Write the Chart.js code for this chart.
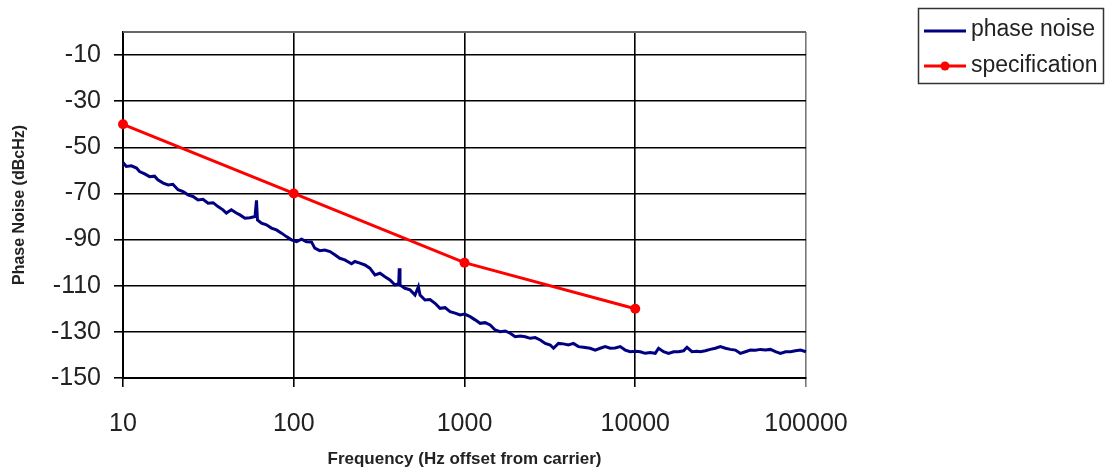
<!DOCTYPE html>
<html><head><meta charset="utf-8">
<script src="https://cdn.jsdelivr.net/npm/chart.js@4.4.0/dist/chart.umd.min.js"></script>
<style>html,body{margin:0;padding:0;background:#fff;}#wrap{width:1111px;height:470px;}</style>
</head><body><div id="wrap"><canvas id="c" width="1111" height="470"></canvas></div>
<script>
const xTicks = [10, 100, 1000, 10000, 100000];
const yTicks = [-150, -130, -110, -90, -70, -50, -30, -10];
const specFreq = [10, 100, 1000, 10000];
const specVal = [-40, -70, -100, -120];
const noiseFreq = [10, 10.45, 11.2, 12.0, 12.5, 13.4, 14.3, 15.3, 16.0, 17.2, 18.4, 19.6, 21.0, 22.5, 24.0, 25.7, 27.5, 29.4, 31.5, 33.7, 36.0, 38.5, 40.3, 43.1, 46.1, 48.4, 51.8, 55.4, 59.3, 60.5, 61.3, 64.7, 69.2, 74.0, 79.2, 84.8, 90.6, 97.0, 103.8, 111, 118.8, 127, 132.8, 142, 152, 163, 174, 186, 199, 218, 228, 244, 261, 279, 299, 320, 342, 366, 392, 412, 415, 419, 448, 480, 513, 537, 549, 587, 628, 672, 719, 770, 823, 881, 942, 1000, 1079, 1154, 1235, 1321, 1413, 1512, 1618, 1731, 1852, 1981, 2120, 2268, 2426, 2596, 2777, 2971, 3179, 3322, 3549, 3796, 4061, 4344, 4648, 4973, 5444, 5825, 6231, 6667, 7133, 7631, 8164, 8735, 9345, 10000, 10697, 11444, 12244, 13099, 13694, 14650, 15673, 16768, 17940, 19194, 20084, 21487, 22988, 24048, 25730, 27525, 29448, 31505, 33707, 36062, 38582, 41278, 44162, 47248, 50550, 54082, 57862, 61905, 66230, 70858, 75810, 81107, 86775, 92838, 100000];
const noiseVal = [-56.5, -58.3, -58.0, -59.0, -60.5, -61.5, -62.7, -62.5, -64.1, -65.5, -66.3, -66.0, -68.4, -69.2, -70.6, -71.3, -72.8, -72.5, -74.2, -74.0, -75.7, -77.1, -78.5, -77.1, -78.5, -79.3, -80.7, -80.5, -80.0, -73.0, -81.5, -82.9, -83.6, -85.0, -85.8, -87.2, -88.7, -90.1, -90.9, -89.8, -90.9, -91.0, -93.7, -94.8, -94.5, -95.2, -96.6, -98.1, -98.8, -100.5, -99.5, -100.2, -101.0, -102.4, -105.3, -104.6, -106.1, -107.5, -109.7, -109.0, -102.4, -109.7, -111.1, -111.8, -114.0, -110.4, -114.0, -116.2, -116.0, -117.6, -119.8, -119.5, -121.2, -121.9, -122.7, -122.3, -123.4, -124.8, -126.3, -126.0, -127.0, -129.2, -129.9, -129.6, -130.6, -132.1, -131.8, -132.1, -132.8, -132.5, -133.5, -135.0, -135.7, -137.1, -135.0, -135.2, -135.7, -135.0, -136.4, -136.7, -137.1, -137.9, -137.1, -136.4, -137.1, -137.0, -136.4, -137.9, -138.6, -138.4, -138.6, -139.3, -139.0, -139.3, -137.1, -138.6, -139.3, -138.6, -138.6, -138.2, -136.7, -138.6, -138.4, -138.6, -138.2, -137.6, -137.1, -136.4, -137.1, -137.6, -137.9, -139.3, -138.6, -137.9, -138.0, -137.6, -137.9, -137.6, -138.6, -139.3, -138.6, -138.6, -138.2, -137.9, -138.6];

const FONT = "'Liberation Sans', Arial, sans-serif";

const framePlugin = {
  id: 'frame',
  afterDraw(chart) {
    const {ctx, chartArea: a} = chart;
    ctx.save();
    ctx.strokeStyle = '#666';
    ctx.lineWidth = 2;
    ctx.beginPath();
    ctx.moveTo(a.left, a.top);
    ctx.lineTo(a.right, a.top);
    ctx.stroke();
    ctx.restore();
  }
};

const legendPlugin = {
  id: 'customLegend',
  afterDraw(chart) {
    const ctx = chart.ctx;
    ctx.save();
    ctx.strokeStyle = '#333';
    ctx.lineWidth = 1.5;
    ctx.strokeRect(918.5, 8.5, 185, 75);
    const ds = chart.data.datasets;
    ctx.font = '23px ' + FONT;
    ctx.fillStyle = '#222';
    ctx.textBaseline = 'middle';
    ctx.textAlign = 'left';
    ctx.strokeStyle = ds[0].borderColor;
    ctx.lineWidth = 3;
    ctx.beginPath(); ctx.moveTo(924, 31); ctx.lineTo(966, 31); ctx.stroke();
    ctx.fillText(ds[0].label, 971, 30);
    ctx.strokeStyle = ds[1].borderColor;
    ctx.beginPath(); ctx.moveTo(924, 66); ctx.lineTo(966, 66); ctx.stroke();
    ctx.fillStyle = ds[1].borderColor;
    ctx.beginPath(); ctx.arc(945, 66, 4.5, 0, Math.PI * 2); ctx.fill();
    ctx.fillStyle = '#222';
    ctx.fillText(ds[1].label, 971, 66);
    ctx.restore();
  }
};

new Chart(document.getElementById('c'), {
  type: 'line',
  data: {
    datasets: [
      {
        label: 'phase noise',
        data: noiseFreq.map((f, i) => ({x: f, y: noiseVal[i]})),
        borderColor: '#000080',
        backgroundColor: '#000080',
        borderWidth: 3,
        pointRadius: 0,
        tension: 0,
        clip: false,
        order: 2
      },
      {
        label: 'specification',
        data: specFreq.map((f, i) => ({x: f, y: specVal[i]})),
        borderColor: '#ff0000',
        backgroundColor: '#ff0000',
        borderWidth: 3,
        pointRadius: 5,
        pointHoverRadius: 5,
        pointBorderWidth: 0,
        tension: 0,
        clip: false,
        order: 1
      }
    ]
  },
  options: {
    responsive: false,
    animation: false,
    events: [],
    layout: {padding: {top: 32, right: 305, left: 0, bottom: 0}},
    plugins: {legend: {display: false}, tooltip: {enabled: false}},
    scales: {
      x: {
        type: 'logarithmic',
        min: 10, max: 100000,
        afterBuildTicks: (s) => { s.ticks = xTicks.map(v => ({value: v})); },
        afterFit: (s) => { s.height = 92; },
        ticks: {
          callback: (v) => String(v),
          font: {size: 25, family: FONT},
          color: '#222',
          padding: 22,
          maxRotation: 0,
          autoSkip: false
        },
        grid: {
          color: (c) => (c.tick && c.tick.value === 100000) ? '#777' : '#000',
          lineWidth: 1.6,
          tickLength: 9
        },
        border: {color: '#000', width: 2},
        title: {
          display: true,
          text: 'Frequency (Hz offset from carrier)',
          font: {size: 17, weight: 'bold', family: FONT},
          color: '#222',
          padding: {top: 0, bottom: 0}
        }
      },
      y: {
        min: -150, max: 0,
        afterBuildTicks: (s) => { s.ticks = yTicks.map(v => ({value: v})); },
        afterFit: (s) => { s.width = 123; },
        ticks: {
          callback: (v) => String(v),
          font: {size: 25, family: FONT},
          color: '#222',
          padding: 13,
          autoSkip: false
        },
        grid: {color: '#000', lineWidth: 1.6, tickLength: 9},
        border: {color: '#000', width: 2},
        title: {
          display: true,
          text: 'Phase Noise (dBcHz)',
          font: {size: 16, weight: 'bold', family: FONT},
          color: '#222',
          padding: {top: 10, bottom: 0}
        }
      }
    }
  },
  plugins: [framePlugin, legendPlugin]
});
</script>
</body></html>
